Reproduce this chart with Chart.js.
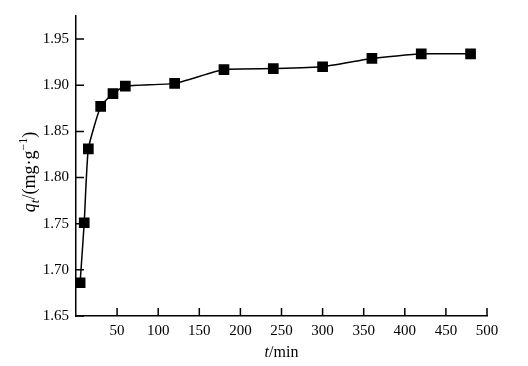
<!DOCTYPE html>
<html>
<head>
    <meta charset="UTF-8">
    <title>qt vs t</title>
    <style>
        body {
            margin: 0;
            padding: 0;
            background: #ffffff;
        }

        .chart-container {
            position: relative;
            width: 528px;
            height: 366px;
        }
    </style>
    <script src="https://cdn.jsdelivr.net/npm/chart.js"></script>
</head>
<body>
    <div class="chart-container">
        <canvas id="myChart"></canvas>
    </div>

    <script>
        // t / min
        const times = [5, 10, 15, 30, 45, 60, 120, 180, 240, 300, 360, 420, 480];
        // q_t / (mg·g^-1)
        const qt = [1.686, 1.751, 1.831, 1.877, 1.891, 1.899, 1.902, 1.917, 1.918, 1.920, 1.929, 1.934, 1.934];
        const xTicks = [50, 100, 150, 200, 250, 300, 350, 400, 450, 500];
        const yTicks = [1.65, 1.70, 1.75, 1.80, 1.85, 1.90, 1.95];

        const serif = "'Liberation Serif', 'Times New Roman', serif";
        Chart.defaults.font.family = serif;
        Chart.defaults.font.size = 15;
        Chart.defaults.color = '#000';

        // draws text made of runs (italic / sub / sup), centred on 0
        function drawRuns(ctx, runs) {
            let total = 0;
            runs.forEach(r => {
                ctx.font = (r.italic ? 'italic ' : '') + r.size + 'px ' + serif;
                r.w = ctx.measureText(r.text).width;
                total += r.w;
            });
            let x = -total / 2;
            runs.forEach(r => {
                ctx.font = (r.italic ? 'italic ' : '') + r.size + 'px ' + serif;
                ctx.fillText(r.text, x, r.dy || 0);
                x += r.w;
            });
        }

        const axisExtras = {
            id: 'axisExtras',
            afterDraw(chart) {
                const ctx = chart.ctx;
                const xs = chart.scales.x;
                const ys = chart.scales.y;
                const area = chart.chartArea;
                ctx.save();
                // inward tick marks
                ctx.strokeStyle = '#000';
                ctx.lineWidth = 1.5;
                ctx.beginPath();
                xTicks.forEach(v => {
                    const px = xs.getPixelForValue(v);
                    ctx.moveTo(px, area.bottom);
                    ctx.lineTo(px, area.bottom - 8);
                });
                yTicks.forEach(v => {
                    const py = ys.getPixelForValue(v);
                    ctx.moveTo(area.left, py);
                    ctx.lineTo(area.left + 8, py);
                });
                ctx.stroke();

                ctx.fillStyle = '#000';
                ctx.textBaseline = 'alphabetic';
                // x title
                ctx.save();
                ctx.translate((area.left + area.right) / 2, 357);
                drawRuns(ctx, [
                    { text: 't', italic: true, size: 16 },
                    { text: '/min', size: 16 }
                ]);
                ctx.restore();
                // y title
                ctx.save();
                ctx.translate(35, 172);
                ctx.rotate(-Math.PI / 2);
                drawRuns(ctx, [
                    { text: 'q', italic: true, size: 18 },
                    { text: 't', italic: true, size: 13, dy: 4 },
                    { text: '/(mg·g', size: 18 },
                    { text: '−1', size: 12, dy: -8 },
                    { text: ')', size: 18 }
                ]);
                ctx.restore();
                ctx.restore();
            }
        };

        const ctx = document.getElementById('myChart').getContext('2d');
        const myChart = new Chart(ctx, {
            type: 'line',
            data: {
                datasets: [{
                    data: times.map((t, i) => ({ x: t, y: qt[i] })),
                    borderColor: '#000',
                    backgroundColor: '#000',
                    borderWidth: 1.5,
                    pointStyle: 'rect',
                    pointRadius: 6.5,
                    pointHoverRadius: 6.5,
                    tension: 0.15
                }]
            },
            options: {
                responsive: true,
                maintainAspectRatio: false,
                animation: false,
                events: [],
                layout: {
                    padding: { top: 10, right: 41, left: 0, bottom: 0 }
                },
                plugins: {
                    legend: { display: false },
                    tooltip: { enabled: false }
                },
                scales: {
                    x: {
                        type: 'linear',
                        min: 0,
                        max: 500,
                        grid: { display: false, drawTicks: false },
                        border: { display: true, color: '#000', width: 1.5 },
                        ticks: {
                            stepSize: 50,
                            padding: 6,
                            maxRotation: 0,
                            callback: v => (v === 0 ? '' : v)
                        },
                        afterFit: s => { s.height = 50; }
                    },
                    y: {
                        min: 1.65,
                        max: 1.975,
                        grid: { display: false, drawTicks: false },
                        border: { display: true, color: '#000', width: 1.5 },
                        ticks: {
                            padding: 7,
                            callback: v => v.toFixed(2)
                        },
                        afterBuildTicks: s => {
                            s.ticks = yTicks.map(v => ({ value: v }));
                        },
                        afterFit: s => { s.width = 76; }
                    }
                }
            },
            plugins: [axisExtras]
        });
    </script>
</body>
</html>
